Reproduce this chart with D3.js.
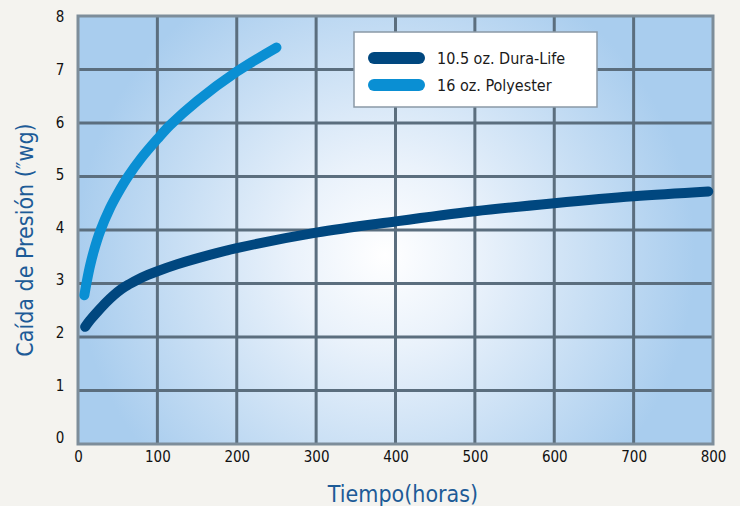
<!DOCTYPE html>
<html>
<head>
<meta charset="utf-8">
<script src="https://d3js.org/d3.v7.min.js"></script>
<style>
body{margin:0;background:#f4f3ef;}
svg{display:block;}
text{font-family:"Liberation Sans Narrow","DejaVu Sans Condensed","Roboto Condensed",sans-serif;}
</style>
</head>
<body>
<svg id="chart" width="740" height="506"></svg>
<script>
// tick values
var hourTicks=[0,100,200,300,400,500,600,700,800];
var dropTicks=[0,1,2,3,4,5,6,7,8];
// series
var duraHours=[9,15,25,35,45,55,65,75,88,100,125,150,200,300,400,500,600,700,794];
var duraDrop=[2.19,2.31,2.48,2.64,2.78,2.90,2.99,3.07,3.16,3.23,3.36,3.47,3.66,3.95,4.16,4.35,4.50,4.63,4.72];
var polyHours=[8,11,15,20,28,40,50,63,80,100,116,150,200,250];
var polyDrop=[2.78,3.03,3.32,3.61,3.98,4.40,4.68,5.00,5.35,5.70,5.96,6.41,6.96,7.41];
var seriesNames=["10.5 oz. Dura-Life","16 oz. Polyester"];
var seriesColors=["#00477f","#0a8fd3"];

var svg=d3.select("#chart");
var x=d3.scaleLinear().domain([0,800]).range([78,713]);
var y=d3.scaleLinear().domain([0,8]).range([444,16]);

var defs=svg.append("defs");
var grad=defs.append("radialGradient").attr("id","bg").attr("gradientUnits","userSpaceOnUse")
 .attr("cx",385).attr("cy",255).attr("r",310);
grad.append("stop").attr("offset","0%").attr("stop-color","#ffffff");
grad.append("stop").attr("offset","30%").attr("stop-color","#eaf2fb");
grad.append("stop").attr("offset","100%").attr("stop-color","#a9cdee");

svg.append("rect").attr("x",x(0)).attr("y",y(8)).attr("width",x(800)-x(0)).attr("height",y(0)-y(8))
 .attr("fill","url(#bg)");

// grid
var g=svg.append("g");
g.selectAll(".vg").data(hourTicks.slice(1,-1)).enter().append("line")
 .attr("x1",function(d){return x(d);}).attr("x2",function(d){return x(d);})
 .attr("y1",y(0)).attr("y2",y(8)).attr("stroke","#5b6e7e").attr("stroke-width",3);
g.selectAll(".hg").data(dropTicks.slice(1,-1)).enter().append("line")
 .attr("y1",function(d){return y(d);}).attr("y2",function(d){return y(d);})
 .attr("x1",x(0)).attr("x2",x(800)).attr("stroke","#5b6e7e").attr("stroke-width",3);
svg.append("rect").attr("x",x(0)).attr("y",y(8)).attr("width",x(800)-x(0)).attr("height",y(0)-y(8))
 .attr("fill","none").attr("stroke","#7d8d9a").attr("stroke-width",3);

// axes (labels only)
var yl=d3.scaleLinear().domain([0,8]).range([438,17]);
var ya=svg.append("g").attr("transform","translate(66,0)")
 .call(d3.axisLeft(yl).tickValues(dropTicks).tickSize(0).tickPadding(0));
ya.select(".domain").remove();
ya.selectAll("text").attr("font-size",15).attr("fill","#111").attr("text-anchor","middle").attr("dx",-6)
 .style("font-family","'Liberation Sans Narrow','DejaVu Sans Condensed',sans-serif");
var xa=svg.append("g").attr("transform","translate(0,451)")
 .call(d3.axisBottom(x).tickValues(hourTicks).tickSize(0).tickPadding(0));
xa.select(".domain").remove();
xa.selectAll("text").attr("font-size",15).attr("fill","#111")
 .style("font-family","'Liberation Sans Narrow','DejaVu Sans Condensed',sans-serif");

// curves
var line=d3.line().x(function(d){return x(d[0]);}).y(function(d){return y(d[1]);}).curve(d3.curveCatmullRom.alpha(0.5));
var series=[d3.zip(duraHours,duraDrop),d3.zip(polyHours,polyDrop)];
svg.selectAll(".curve").data(series).enter().append("path")
 .attr("d",line).attr("fill","none")
 .attr("stroke",function(d,i){return seriesColors[i];})
 .attr("stroke-width",10).attr("stroke-linecap","round").attr("stroke-linejoin","round");

// legend
var lg=svg.append("g");
lg.append("rect").attr("x",354).attr("y",32).attr("width",243).attr("height",75)
 .attr("fill","#ffffff").attr("stroke","#8a99a6").attr("stroke-width",1.5);
lg.selectAll(".ll").data(seriesNames).enter().append("line")
 .attr("x1",374).attr("x2",419)
 .attr("y1",function(d,i){return 58+i*27;}).attr("y2",function(d,i){return 58+i*27;})
 .attr("stroke",function(d,i){return seriesColors[i];}).attr("stroke-width",12).attr("stroke-linecap","round");
lg.selectAll(".lt").data(seriesNames).enter().append("text")
 .attr("x",437).attr("y",function(d,i){return 64+i*27;})
 .attr("font-size",16).attr("fill","#1a1a1a").text(function(d){return d;});

// titles
svg.append("text").attr("x",403).attr("y",502).attr("text-anchor","middle")
 .attr("font-size",23).attr("fill","#1d5b97").text("Tiempo(horas)");
svg.append("text").attr("transform","translate(33,240) rotate(-90)").attr("text-anchor","middle")
 .attr("font-size",23).attr("fill","#1d5b97").text("Caída de Presión (″wg)");
</script>
</body>
</html>
